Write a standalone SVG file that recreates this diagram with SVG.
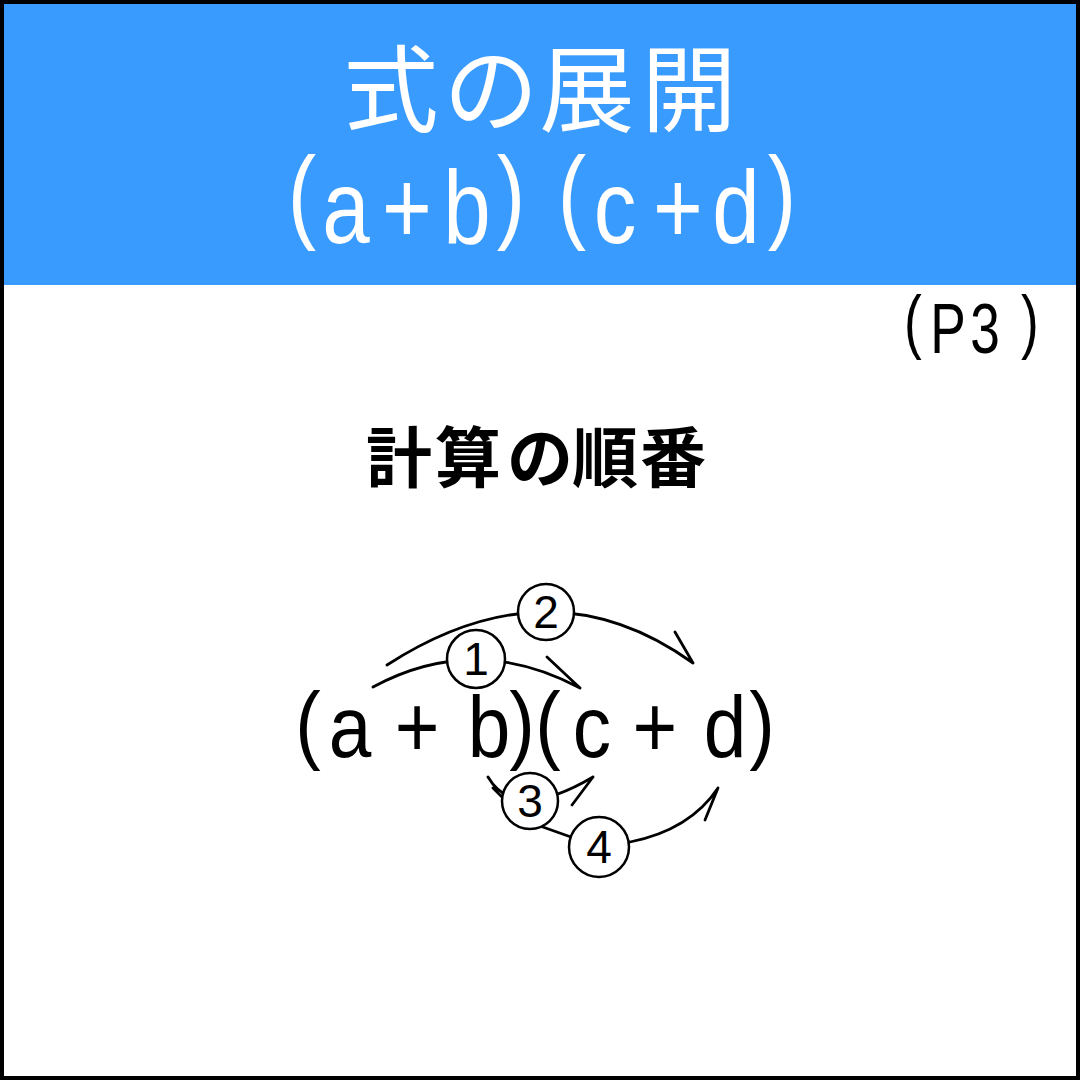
<svg xmlns="http://www.w3.org/2000/svg" width="1080" height="1080" viewBox="0 0 1080 1080">
<style>
.ttl{font-family:"Noto Sans CJK JP","Noto Sans",sans-serif;fill:#fff;text-anchor:middle}
.ttlL{font-family:"Liberation Sans",Arial,sans-serif;fill:#fff;text-anchor:middle}
.blk{font-family:"Liberation Sans",Arial,sans-serif;fill:#000;text-anchor:middle}
.jp{font-family:"Noto Sans CJK JP",sans-serif;fill:#000;text-anchor:middle;font-weight:700}
.con{fill:none;stroke:#000;stroke-width:2.8;stroke-linecap:round;stroke-linejoin:round}
.num circle{fill:#fff;stroke:#000;stroke-width:2.5}
.num text{font-family:"Liberation Sans",Arial,sans-serif;font-size:46px;fill:#000;text-anchor:middle}
</style>
<rect x="2" y="2" width="1076" height="1076" fill="#fff" stroke="#000" stroke-width="4"/>
<rect x="4" y="4" width="1072" height="281" fill="#3a9bfe"/>
<g id="title">
<text class="ttl" font-size="95" x="391 491 587 689" y="125">式の展開</text>
<text class="ttlL" font-size="104" transform="scale(0.82 1)" x="368.3 422 496.3 569.5 623.2 697.6 750 826.8 897.6 953.7" y="229 243 243 243 229 229 243 243 243 229">(a+b)(c+d)</text>
</g>
<g id="page">
<text class="blk" font-size="71" transform="scale(0.75 1)" x="1217.3 1264 1313.3 1373.3" y="345 353 353 345">(P3)</text>
</g>
<g id="subtitle">
<text class="jp" font-size="66" x="399 468 540 605 673" y="482">計算の順番</text>
</g>
<g id="expression">
<text class="blk" font-size="87" transform="scale(0.88 1)" x="350 397.7 473.9 555.7 593.2 622.7 672.7 744.3 823.9 865.9" y="753 757 757 757 753 753 757 757 757 753">(a+b)(c+d)</text>
</g>
<g id="connectors">
<path class="con" d="M373,687 Q475,632 580,688 M547,657 L580,688"/>
<path class="con" d="M387,665 Q550,560 693,663 M675,632 L693,663"/>
<path class="con" d="M488,777 Q515,823 593,777 M572,805 L593,777 M493,788 L502,797"/>
<path class="con" d="M540,826 L599,847 L630,842 Q690,830 718,788 M705,820 L718,788"/>
</g>
<g id="step1" class="num"><circle cx="476" cy="659" r="29"/><text x="476" y="675">1</text></g>
<g id="step2" class="num"><circle cx="546" cy="612" r="28"/><text x="546" y="628">2</text></g>
<g id="step3" class="num"><circle cx="530" cy="801" r="28"/><text x="530" y="817">3</text></g>
<g id="step4" class="num"><circle cx="599" cy="847" r="30"/><text x="599" y="863">4</text></g>
</svg>
